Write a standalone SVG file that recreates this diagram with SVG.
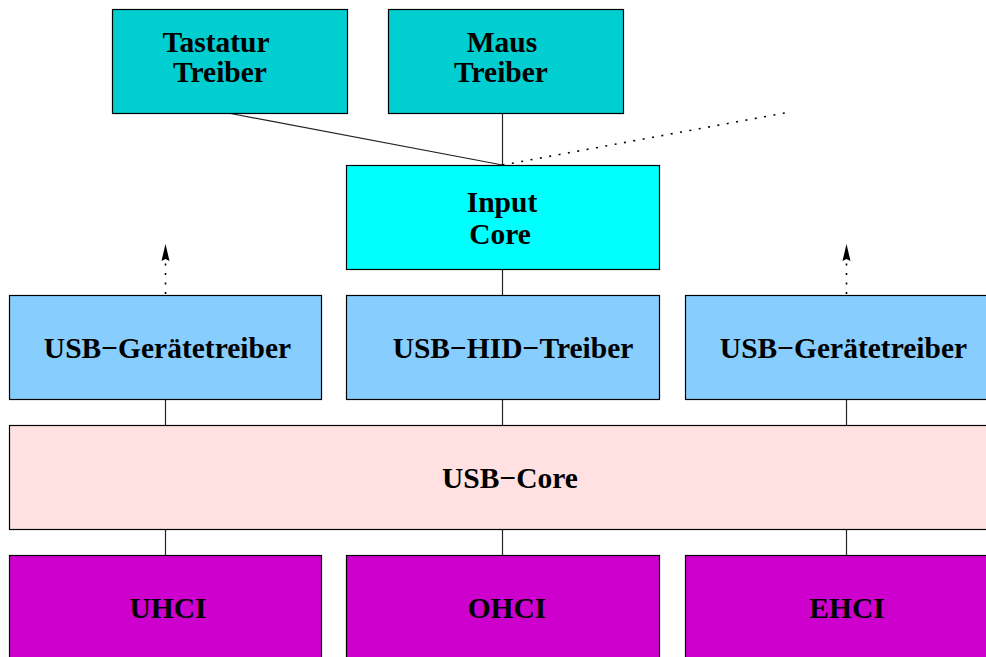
<svg xmlns="http://www.w3.org/2000/svg" width="986" height="657" viewBox="0 0 986 657">
  <style>
    .box { stroke: #000; stroke-width: 1.2; }
    .drv { fill: #00CED1; }
    .core { fill: #00FFFF; }
    .usbdrv { fill: #87CEFF; }
    .usbcore { fill: #FFE1E1; }
    .hc { fill: #CD00CD; }
    .lbl { font-family: "Liberation Serif", "Times New Roman", serif; font-weight: bold; font-size: 29.5px; fill: #000; text-anchor: middle; }
    .link { stroke: #222; stroke-width: 1.2; fill: none; }
    .dot { stroke: #000; stroke-width: 1.6; fill: none; stroke-dasharray: 2 7.5; }
  </style>
  <defs>
    <marker id="arrow" markerWidth="10" markerHeight="18" refX="4" refY="1" orient="auto-start-reverse" markerUnits="userSpaceOnUse" viewBox="0 0 8 18">
      <path d="M4 0 L8 17 L4 15 L0 17 Z" fill="#000"/>
    </marker>
  </defs>

  <rect width="986" height="657" fill="#fff"/>

  <!-- connectors -->
  <g id="connectors">
    <line class="link" x1="228" y1="113" x2="502.5" y2="165"/>
    <line class="link" x1="502.5" y1="113" x2="502.5" y2="165"/>
    <line class="dot" x1="502.5" y1="165" x2="790" y2="112"/>
    <line class="link" x1="502.5" y1="269" x2="502.5" y2="295"/>
    <line class="dot" x1="165.5" y1="294" x2="165.5" y2="262"/>
    <path d="M165.5 244 L169.5 261 L165.5 259 L161.5 261 Z" fill="#000"/>
    <line class="dot" x1="846.5" y1="294" x2="846.5" y2="262"/>
    <path d="M846.5 244 L850.5 261 L846.5 259 L842.5 261 Z" fill="#000"/>
    <line class="link" x1="165.5" y1="399" x2="165.5" y2="425"/>
    <line class="link" x1="502.5" y1="399" x2="502.5" y2="425"/>
    <line class="link" x1="846.5" y1="399" x2="846.5" y2="425"/>
    <line class="link" x1="165.5" y1="529" x2="165.5" y2="555"/>
    <line class="link" x1="502.5" y1="529" x2="502.5" y2="555"/>
    <line class="link" x1="846.5" y1="529" x2="846.5" y2="555"/>
  </g>

  <g id="tastatur">
    <rect class="box drv" x="112.5" y="9.5" width="235" height="104"/>
    <text class="lbl" x="216" y="52">Tastatur</text>
    <text class="lbl" x="220" y="82">Treiber</text>
  </g>
  <g id="maus">
    <rect class="box drv" x="388.5" y="9.5" width="235" height="104"/>
    <text class="lbl" x="502" y="52">Maus</text>
    <text class="lbl" x="501" y="82">Treiber</text>
  </g>
  <g id="inputcore">
    <rect class="box core" x="346.5" y="165.5" width="313" height="104"/>
    <text class="lbl" x="502" y="212">Input</text>
    <text class="lbl" x="500" y="244">Core</text>
  </g>
  <g id="usbdrv-left">
    <rect class="box usbdrv" x="9.5" y="295.5" width="312" height="104"/>
    <text class="lbl" x="167.5" y="358">USB−Gerätetreiber</text>
  </g>
  <g id="usbhid">
    <rect class="box usbdrv" x="346.5" y="295.5" width="313" height="104"/>
    <text class="lbl" x="513" y="358">USB−HID−Treiber</text>
  </g>
  <g id="usbdrv-right">
    <rect class="box usbdrv" x="685.5" y="295.5" width="312" height="104"/>
    <text class="lbl" x="843.5" y="358">USB−Gerätetreiber</text>
  </g>
  <g id="usbcore">
    <rect class="box usbcore" x="9.5" y="425.5" width="990" height="104"/>
    <text class="lbl" x="510" y="488">USB−Core</text>
  </g>
  <g id="uhci">
    <rect class="box hc" x="9.5" y="555.5" width="312" height="104"/>
    <text class="lbl" x="168" y="618">UHCI</text>
  </g>
  <g id="ohci">
    <rect class="box hc" x="346.5" y="555.5" width="313" height="104"/>
    <text class="lbl" x="507" y="618">OHCI</text>
  </g>
  <g id="ehci">
    <rect class="box hc" x="685.5" y="555.5" width="312" height="104"/>
    <text class="lbl" x="847" y="618">EHCI</text>
  </g>
</svg>
